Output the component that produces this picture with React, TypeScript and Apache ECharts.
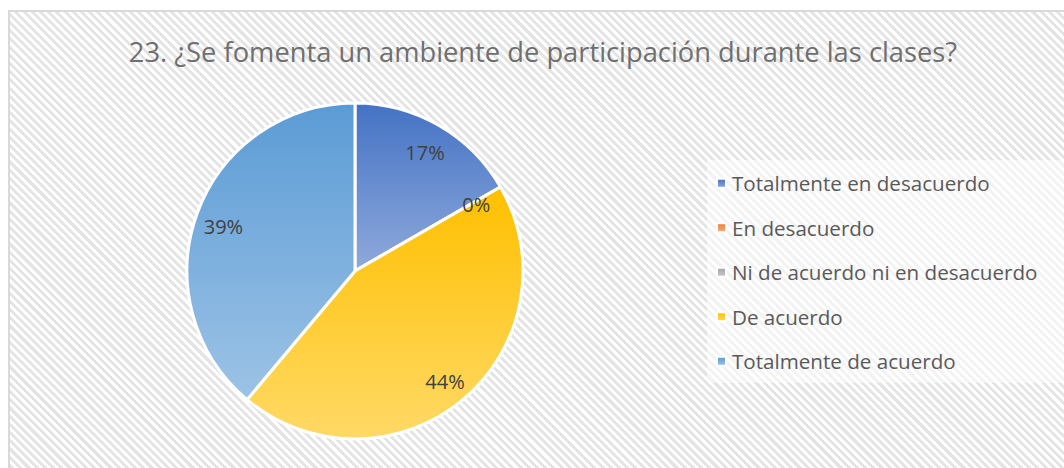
import React, { useEffect, useRef } from "react";
import * as echarts from "echarts";

const title = "23. ¿Se fomenta un ambiente de participación durante las clases?";
const categories = [
  "Totalmente en desacuerdo",
  "En desacuerdo",
  "Ni de acuerdo ni en desacuerdo",
  "De acuerdo",
  "Totalmente de acuerdo",
];
const counts = [3, 0, 0, 8, 7];
const topColors = ["#4472C4", "#ED7D31", "#A5A5A5", "#FFC000", "#5B9BD5"];
const bottomColors = ["#8FAADC", "#F4B183", "#C9C9C9", "#FFD966", "#9DC3E6"];

const FONT = "'Open Sans', 'Noto Sans', sans-serif";

function grad(i: number) {
  return new echarts.graphic.LinearGradient(0, 0, 0, 1, [
    { offset: 0, color: topColors[i] },
    { offset: 1, color: bottomColors[i] },
  ]);
}

export default function App() {
  const ref = useRef<HTMLDivElement>(null);
  useEffect(() => {
    if (!ref.current) return;
    const chart = echarts.init(ref.current, undefined, { renderer: "svg" });
    const total = counts.reduce((a, b) => a + b, 0);
    const data = categories.map((name, i) => ({
      name,
      value: counts[i],
      itemStyle: { color: grad(i) },
    }));
    chart.setOption({
      animation: false,
      backgroundColor: "transparent",
      title: {
        text: title,
        left: 538,
        textAlign: "center",
        top: 33,
        textStyle: {
          fontFamily: FONT,
          fontSize: 27.3,
          fontWeight: "normal",
          color: "#6f6f6f",
        },
      },
      legend: {
        orient: "vertical",
        left: 707,
        top: 160,
        data: categories,
        icon: "rect",
        itemWidth: 9,
        itemHeight: 9,
        itemGap: 21.8,
        padding: [12, 80, 10, 9],
        backgroundColor: "rgba(255,255,255,0.55)",
        textStyle: {
          fontFamily: FONT,
          fontSize: 20.6,
          lineHeight: 22.7,
          color: "#595959",
          padding: [0, 0, 0, 1],
        },
      },
      series: [
        {
          type: "pie",
          center: [355, 271],
          radius: [0, 168],
          startAngle: 90,
          clockwise: true,
          data,
          label: { show: false },
          labelLine: { show: false },
          itemStyle: { borderColor: "#ffffff", borderWidth: 3 },
          emphasis: { disabled: true },
        },
        {
          type: "pie",
          center: [355, 271],
          radius: [102, 172],
          startAngle: 90,
          clockwise: true,
          silent: true,
          legendHoverLink: false,
          data: categories.map((name, i) => ({
            name,
            value: counts[i],
            itemStyle: { color: "rgba(0,0,0,0)" },
          })),
          itemStyle: { borderWidth: 0 },
          label: {
            show: true,
            position: "inside",
            fontFamily: FONT,
            fontSize: 20,
            color: "#404040",
            offset: [0, 3],
            formatter: (p: any) => Math.round((p.value / total) * 100) + "%",
          },
          labelLine: { show: false },
          emphasis: { disabled: true },
        },
      ],
    });
    return () => chart.dispose();
  }, []);

  return (
    <div
      style={{
        position: "fixed",
        left: 0,
        top: 0,
        width: 1064,
        height: 468,
        overflow: "hidden",
        background: "#ffffff",
      }}
    >
      <div
        style={{
          position: "absolute",
          left: 8,
          top: 10,
          width: 1080,
          height: 480,
          border: "2px solid #d9d9d9",
          boxSizing: "border-box",
          background:
            "repeating-linear-gradient(45deg, #ffffff 0px, #ffffff 2.9px, #e4e4e4 2.9px, #e4e4e4 5.8px)",
        }}
      />
      <div
        ref={ref}
        style={{ position: "absolute", left: 0, top: 0, width: 1064, height: 468 }}
      />
    </div>
  );
}
